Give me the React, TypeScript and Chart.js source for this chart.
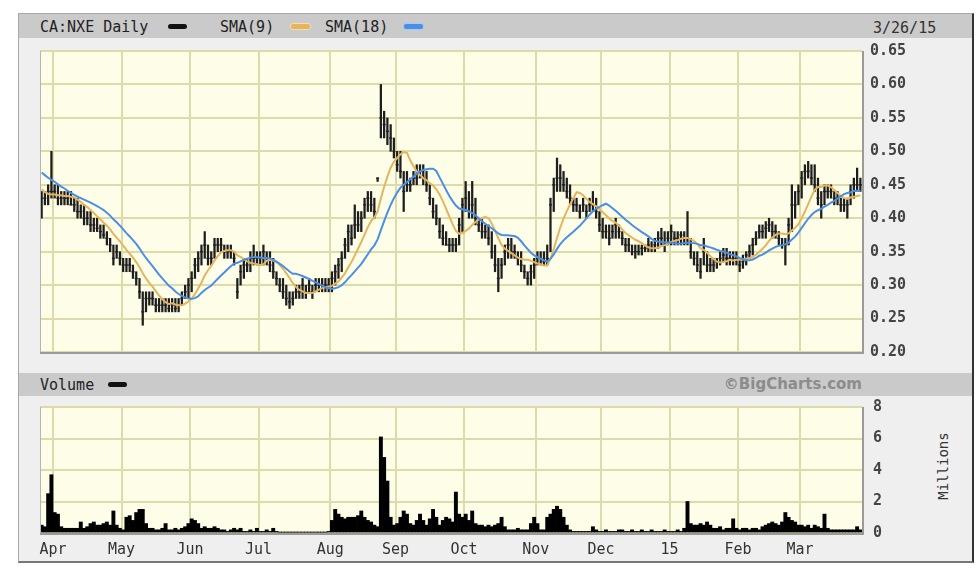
import React, { useEffect, useRef } from "react";
import { Chart, registerables } from "chart.js";

Chart.register(...registerables);

// ---- data ----
const symbol = "CA:NXE Daily";
const asOf = "3/26/15";
const monthLabels = ["Apr", "May", "Jun", "Jul", "Aug", "Sep", "Oct", "Nov", "Dec", "15", "Feb", "Mar"];
const monthStartIdx = [4, 25, 46, 67, 89, 109, 130, 152, 172, 193, 214, 233];
const priceTicks = [0.2, 0.25, 0.3, 0.35, 0.4, 0.45, 0.5, 0.55, 0.6, 0.65];
const volumeTicks = [0, 2, 4, 6, 8];

// closes before the first visible day (seed the moving averages)
const priorCloses = [0.5, 0.51, 0.5, 0.49, 0.5, 0.49, 0.48, 0.49, 0.48, 0.47, 0.46, 0.45, 0.44, 0.44, 0.43, 0.44, 0.43];

const highs = [
  0.44, 0.44, 0.45, 0.5, 0.45, 0.45, 0.44, 0.44, 0.44, 0.44,
  0.43, 0.43, 0.42, 0.42, 0.41, 0.41, 0.4, 0.4, 0.39, 0.39,
  0.38, 0.37, 0.36, 0.36, 0.35, 0.34, 0.34, 0.34, 0.33, 0.32,
  0.31, 0.29, 0.29, 0.29, 0.29, 0.28, 0.28, 0.28, 0.28, 0.28,
  0.28, 0.28, 0.28, 0.29, 0.3, 0.31, 0.32, 0.34, 0.35, 0.36,
  0.38, 0.36, 0.35, 0.37, 0.37, 0.37, 0.36, 0.36, 0.36, 0.35,
  0.31, 0.33, 0.34, 0.34, 0.35, 0.36, 0.35, 0.35, 0.36, 0.35,
  0.35, 0.34, 0.32, 0.31, 0.31, 0.3, 0.29, 0.29, 0.3, 0.3,
  0.31, 0.3, 0.31, 0.3, 0.31, 0.31, 0.31, 0.31, 0.31, 0.32,
  0.33, 0.34, 0.35, 0.37, 0.39, 0.39, 0.42, 0.41, 0.41, 0.43,
  0.44, 0.44, 0.43, 0.46, 0.6, 0.56, 0.55, 0.54, 0.52, 0.5,
  0.5, 0.47, 0.47, 0.46, 0.47, 0.48, 0.48, 0.48, 0.47, 0.45,
  0.43, 0.42, 0.4, 0.39, 0.38, 0.37, 0.37, 0.37, 0.4, 0.43,
  0.455, 0.44, 0.455, 0.43, 0.4, 0.4, 0.39, 0.39, 0.38, 0.36,
  0.34, 0.34, 0.36, 0.37, 0.37, 0.36, 0.35, 0.35, 0.33, 0.32,
  0.33, 0.34, 0.35, 0.35, 0.35, 0.36, 0.43, 0.46, 0.49, 0.48,
  0.47, 0.46, 0.45, 0.43, 0.43, 0.42, 0.43, 0.42, 0.43, 0.44,
  0.43, 0.41, 0.4, 0.39, 0.39, 0.39, 0.4, 0.39, 0.38, 0.37,
  0.37, 0.36, 0.36, 0.36, 0.36, 0.36, 0.37, 0.365, 0.37, 0.38,
  0.385, 0.38, 0.38, 0.39, 0.38, 0.38, 0.38, 0.38, 0.41, 0.37,
  0.35, 0.35, 0.34, 0.37, 0.35, 0.34, 0.34, 0.34, 0.35, 0.355,
  0.355, 0.35, 0.35, 0.35, 0.34, 0.345, 0.35, 0.36, 0.37, 0.38,
  0.39, 0.39, 0.395, 0.4, 0.395, 0.39, 0.38, 0.37, 0.37, 0.4,
  0.45, 0.44, 0.45, 0.47, 0.48, 0.485, 0.48, 0.48, 0.46, 0.44,
  0.45, 0.45, 0.45, 0.44, 0.44, 0.43, 0.43, 0.43, 0.45, 0.46,
  0.475, 0.46,
];

const lows = [
  0.4, 0.42, 0.42, 0.43, 0.43, 0.42, 0.42, 0.42, 0.42, 0.42,
  0.41, 0.4, 0.4, 0.39, 0.39, 0.38, 0.38, 0.38, 0.37, 0.37,
  0.36, 0.35, 0.33, 0.34, 0.33, 0.32, 0.32, 0.32, 0.31, 0.3,
  0.28, 0.24, 0.26, 0.27, 0.27, 0.26, 0.26, 0.26, 0.26, 0.26,
  0.26, 0.26, 0.26, 0.27, 0.28, 0.28, 0.29, 0.31, 0.32, 0.33,
  0.34, 0.33, 0.33, 0.34, 0.35, 0.35, 0.34, 0.34, 0.34, 0.33,
  0.28, 0.3, 0.31, 0.32, 0.32, 0.33, 0.33, 0.33, 0.33, 0.33,
  0.32, 0.31, 0.3, 0.29, 0.28, 0.27, 0.265, 0.27, 0.28, 0.28,
  0.28, 0.28, 0.29, 0.28, 0.29, 0.29, 0.29, 0.29, 0.29, 0.29,
  0.3, 0.31, 0.32, 0.34, 0.35, 0.36, 0.37, 0.38, 0.38, 0.4,
  0.41, 0.41, 0.4, 0.455, 0.52, 0.52, 0.51, 0.5, 0.49, 0.47,
  0.46, 0.41, 0.44, 0.44, 0.45, 0.45, 0.46, 0.45, 0.44, 0.42,
  0.4, 0.39, 0.37, 0.36, 0.36, 0.35, 0.35, 0.35, 0.36, 0.38,
  0.41, 0.4, 0.4, 0.39, 0.38, 0.37, 0.37, 0.36, 0.34, 0.32,
  0.29, 0.31, 0.33, 0.34, 0.34, 0.34, 0.33, 0.32, 0.31, 0.3,
  0.3, 0.31, 0.33, 0.33, 0.33, 0.33, 0.35, 0.41, 0.44, 0.44,
  0.44, 0.43, 0.42, 0.41, 0.41, 0.4, 0.41, 0.4, 0.41, 0.41,
  0.4, 0.38, 0.37, 0.37, 0.36, 0.37, 0.37, 0.37, 0.36, 0.35,
  0.35, 0.345, 0.34, 0.345, 0.345, 0.35, 0.35, 0.35, 0.35, 0.355,
  0.36, 0.35, 0.36, 0.36, 0.36, 0.36, 0.36, 0.36, 0.36, 0.34,
  0.33, 0.32, 0.31, 0.33, 0.32, 0.32, 0.32, 0.325, 0.33, 0.335,
  0.33, 0.33, 0.33, 0.33, 0.32, 0.325, 0.33, 0.34, 0.345, 0.36,
  0.37, 0.37, 0.37, 0.38, 0.37, 0.37, 0.36, 0.355, 0.33, 0.36,
  0.38, 0.4, 0.42, 0.43, 0.45, 0.46, 0.45, 0.44, 0.42, 0.4,
  0.42, 0.43, 0.43, 0.42, 0.42, 0.41, 0.41, 0.4, 0.42, 0.43,
  0.44, 0.44,
];

const closes = [
  0.43, 0.43, 0.44, 0.44, 0.44, 0.43, 0.43, 0.43, 0.43, 0.42,
  0.42, 0.41, 0.41, 0.4, 0.4, 0.39, 0.39, 0.385, 0.38, 0.375,
  0.37, 0.36, 0.34, 0.35, 0.34, 0.33, 0.33, 0.33, 0.32, 0.31,
  0.29, 0.26, 0.28, 0.28, 0.28, 0.27, 0.27, 0.27, 0.27, 0.265,
  0.27, 0.265, 0.27, 0.28, 0.29, 0.3, 0.31, 0.33, 0.34, 0.35,
  0.36, 0.34, 0.34, 0.36, 0.36, 0.36, 0.35, 0.35, 0.35, 0.34,
  0.29, 0.32, 0.33, 0.33, 0.34, 0.34, 0.34, 0.34, 0.35, 0.34,
  0.33, 0.32, 0.31, 0.3, 0.29, 0.28, 0.275, 0.28, 0.29, 0.29,
  0.3, 0.29, 0.3, 0.29, 0.3, 0.3, 0.3, 0.3, 0.3, 0.31,
  0.32, 0.33, 0.34, 0.36, 0.38, 0.37, 0.39, 0.39, 0.4, 0.42,
  0.43, 0.42, 0.41, 0.46, 0.55, 0.54, 0.53, 0.52, 0.5, 0.48,
  0.47, 0.44, 0.45, 0.45, 0.46, 0.46, 0.47, 0.46, 0.45, 0.43,
  0.41, 0.4, 0.38, 0.37, 0.36, 0.36, 0.36, 0.36, 0.39, 0.42,
  0.43, 0.41, 0.42, 0.4, 0.39, 0.38, 0.38, 0.37, 0.35, 0.33,
  0.31, 0.33, 0.35, 0.36, 0.35, 0.35, 0.34, 0.33, 0.32, 0.31,
  0.32, 0.33, 0.34, 0.34, 0.335, 0.34, 0.42, 0.45, 0.46, 0.46,
  0.45, 0.44, 0.43, 0.42, 0.42, 0.41, 0.42, 0.41, 0.42, 0.42,
  0.41, 0.39, 0.38, 0.38, 0.37, 0.38, 0.39, 0.38, 0.37, 0.36,
  0.36, 0.35, 0.35, 0.35, 0.355, 0.355, 0.36, 0.355, 0.36, 0.37,
  0.37, 0.36, 0.37, 0.38, 0.37, 0.37, 0.375, 0.37, 0.37, 0.35,
  0.34, 0.33, 0.32, 0.35, 0.33, 0.33, 0.33, 0.335, 0.34, 0.345,
  0.34, 0.34, 0.34, 0.34, 0.33, 0.335, 0.345, 0.35, 0.36, 0.37,
  0.38, 0.38, 0.385, 0.39, 0.38, 0.38, 0.37, 0.36, 0.36, 0.39,
  0.42, 0.42, 0.44, 0.46, 0.47, 0.47, 0.46, 0.45, 0.43, 0.42,
  0.44, 0.44, 0.44, 0.43, 0.43, 0.42, 0.42, 0.42, 0.44, 0.45,
  0.45, 0.45,
];

// volume, millions of shares
const volumes = [
  0.5, 0.4, 2.5, 3.7, 1.3, 1.2, 0.4, 0.3, 0.3, 0.3,
  0.3, 0.3, 0.7, 0.3, 0.4, 0.6, 0.7, 0.5, 0.5, 0.6,
  0.7, 0.5, 1.4, 0.5, 0.3, 0.2, 1.0, 1.1, 0.8, 1.3,
  1.5, 1.5, 0.6, 0.3, 0.3, 0.2, 0.2, 0.3, 0.6, 0.2,
  0.2, 0.3, 0.2, 0.3, 0.4, 0.6, 0.9, 0.8, 0.6, 0.3,
  0.4, 0.3, 0.3, 0.4, 0.3, 0.2, 0.2, 0.1, 0.2, 0.3,
  0.2, 0.3, 0.1, 0.1, 0.2, 0.1, 0.3, 0.1, 0.1, 0.2,
  0.1, 0.3, 0.1, 0.05, 0.05, 0.05, 0.05, 0.05, 0.05, 0.05,
  0.05, 0.05, 0.05, 0.05, 0.05, 0.05, 0.05, 0.05, 0.1, 0.8,
  1.5, 1.2, 1.0, 0.9, 1.0, 1.0, 1.0, 1.1, 1.4, 1.0,
  0.8, 0.7, 0.5, 0.4, 6.1, 4.8, 3.3, 1.0, 0.5, 0.6,
  1.0, 1.4, 1.2, 0.6, 0.5, 0.8, 1.2, 0.8, 0.5, 0.9,
  1.5, 1.0, 0.5, 0.8, 1.0, 0.9, 0.7, 2.6, 1.2, 1.0,
  1.2, 0.8, 1.4, 0.6, 0.5, 0.5, 0.4, 0.5, 0.4, 0.5,
  0.6, 1.0, 0.4, 0.2, 0.2, 0.2, 0.3, 0.2, 0.2, 0.2,
  0.6, 1.0, 0.6, 0.2, 0.2, 1.0, 1.2, 1.5, 1.7, 1.5,
  1.0, 0.5, 0.2, 0.1, 0.1, 0.1, 0.1, 0.1, 0.1, 0.4,
  0.2, 0.1, 0.1, 0.2, 0.1, 0.1, 0.1, 0.2, 0.2, 0.1,
  0.1, 0.2, 0.1, 0.1, 0.2, 0.1, 0.1, 0.2, 0.1, 0.1,
  0.1, 0.2, 0.1, 0.1, 0.1, 0.2, 0.1, 0.3, 2.0, 0.6,
  0.5, 0.5, 0.6, 0.5, 0.7, 0.5, 0.3, 0.3, 0.4, 0.2,
  0.3, 0.3, 0.9, 0.3, 0.2, 0.3, 0.3, 0.2, 0.3, 0.3,
  0.2, 0.4, 0.5, 0.6, 0.7, 0.6, 0.5, 0.7, 1.3, 1.0,
  0.8, 0.7, 0.5, 0.5, 0.4, 0.5, 0.3, 0.5, 0.4, 0.3,
  1.2, 0.3, 0.2, 0.2, 0.2, 0.2, 0.2, 0.2, 0.2, 0.2,
  0.4, 0.2,
];

// ---- styling ----
const PLOT_BG = "#fefee8";
const GRID = "#dcdcaa";
const MONO = "'DejaVu Sans Mono', monospace";
const SMA9_COLOR = "#e5b45c";
const SMA18_COLOR = "#4a8fe6";
const PAD = 26;

function sma(n: number) {
  const all = [...priorCloses, ...closes];
  const off = priorCloses.length;
  return closes.map((_, i) => {
    let s = 0;
    for (let k = 0; k < n; k++) s += all[off + i - k];
    return { x: i, y: s / n };
  });
}

const panelPlugin = {
  id: "panel",
  beforeDraw(chart: any) {
    const { ctx, chartArea: a } = chart;
    ctx.save();
    ctx.fillStyle = PLOT_BG;
    ctx.fillRect(a.left, a.top, a.right - a.left, a.bottom - a.top);
    ctx.restore();
  },
  afterDraw(chart: any) {
    const { ctx, chartArea: a } = chart;
    ctx.save();
    ctx.strokeStyle = "#9a9a9a";
    ctx.lineWidth = 2;
    ctx.beginPath();
    ctx.moveTo(a.right + 1, a.top);
    ctx.lineTo(a.right + 1, a.bottom + 1);
    ctx.lineTo(a.left, a.bottom + 1);
    ctx.stroke();
    ctx.strokeStyle = "#b4b4b4";
    ctx.lineWidth = 1;
    ctx.beginPath();
    ctx.moveTo(a.left + 0.5, a.bottom);
    ctx.lineTo(a.left + 0.5, a.top);
    ctx.stroke();
    ctx.restore();
  },
};

const lastIdx = closes.length - 1;

function xScale(showLabels: boolean) {
  return {
    type: "linear" as const,
    min: -0.5,
    max: lastIdx + 0.5,
    offset: false,
    afterBuildTicks: (s: any) => {
      s.ticks = monthStartIdx.map((i) => ({ value: i - 0.5 }));
    },
    afterFit: (s: any) => {
      s.height = showLabels ? 27 : 0;
    },
    grid: { color: GRID, lineWidth: 2, drawTicks: false, offset: false },
    border: { display: false },
    ticks: {
      display: showLabels,
      autoSkip: false,
      maxRotation: 0,
      padding: 8,
      color: "#333",
      font: { family: MONO, size: 15 },
      callback: (_v: any, i: number) => monthLabels[i],
    },
  };
}

export default function App() {
  const priceRef = useRef<HTMLCanvasElement>(null);
  const volRef = useRef<HTMLCanvasElement>(null);

  useEffect(() => {
    const price = new Chart(priceRef.current!, {
      type: "bar",
      data: {
        datasets: [
          {
            type: "line",
            label: "SMA(18)",
            data: sma(18),
            borderColor: SMA18_COLOR,
            borderWidth: 2,
            pointRadius: 0,
            order: 1,
          },
          {
            type: "line",
            label: "SMA(9)",
            data: sma(9),
            borderColor: SMA9_COLOR,
            borderWidth: 2,
            pointRadius: 0,
            order: 2,
          },
          {
            type: "line",
            label: "Close",
            data: closes.map((c, i) => ({ x: i, y: c })),
            showLine: false,
            pointStyle: "line",
            pointRadius: 1.5,
            borderColor: "#1e1e1e",
            borderWidth: 1.4,
            order: 3,
          },
          {
            type: "bar",
            label: "CA:NXE",
            data: highs.map((h, i) => ({ x: i, y: [lows[i], h] })),
            backgroundColor: "#1e1e1e",
            barThickness: 1.6,
            borderWidth: 0,
            order: 4,
          } as any,
        ],
      },
      options: {
        responsive: false,
        animation: false,
        layout: { padding: { left: 20, top: PAD, bottom: PAD, right: 0 } },
        plugins: { legend: { display: false }, tooltip: { enabled: false } },
        scales: {
          x: xScale(false) as any,
          y: {
            position: "right",
            min: 0.2,
            max: 0.65,
            afterBuildTicks: (s: any) => {
              s.ticks = priceTicks.map((v) => ({ value: v }));
            },
            afterFit: (s: any) => {
              s.width = 68;
            },
            grid: { color: GRID, lineWidth: 2, drawTicks: false },
            border: { display: false },
            ticks: {
              padding: 8,
              color: "#444",
              font: { family: MONO, size: 15, weight: "bold" },
              callback: (v: any) => Number(v).toFixed(2),
            },
          },
        },
      },
      plugins: [panelPlugin],
    });

    const vol = new Chart(volRef.current!, {
      type: "bar",
      data: {
        datasets: [
          {
            label: "Volume",
            data: volumes.map((v, i) => ({ x: i, y: v })),
            backgroundColor: "#000",
            borderWidth: 0,
            barPercentage: 1,
            categoryPercentage: 1,
          } as any,
        ],
      },
      options: {
        responsive: false,
        animation: false,
        layout: { padding: { left: 20, top: PAD, bottom: 0, right: 0 } },
        plugins: { legend: { display: false }, tooltip: { enabled: false } },
        scales: {
          x: xScale(true) as any,
          y: {
            position: "right",
            min: 0,
            max: 8,
            afterBuildTicks: (s: any) => {
              s.ticks = volumeTicks.map((v) => ({ value: v }));
            },
            afterFit: (s: any) => {
              s.width = 68;
            },
            grid: { color: GRID, lineWidth: 2, drawTicks: false },
            border: { display: false },
            ticks: {
              padding: 11,
              color: "#444",
              font: { family: MONO, size: 15, weight: "bold" },
            },
          },
        },
      },
      plugins: [panelPlugin],
    });

    return () => {
      price.destroy();
      vol.destroy();
    };
  }, []);

  const txt: React.CSSProperties = {
    position: "absolute",
    fontFamily: MONO,
    fontSize: 15,
    color: "#222",
    lineHeight: "18px",
    whiteSpace: "nowrap",
  };
  const swatch = (left: number, top: number, color: string): React.CSSProperties => ({
    position: "absolute",
    left,
    top,
    width: 19,
    height: 5,
    borderRadius: 3,
    background: color,
  });

  return (
    <div style={{ position: "fixed", left: 0, top: 0, width: 980, height: 580, background: "#fff", overflow: "hidden" }}>
      <div
        style={{
          position: "absolute",
          left: 18,
          top: 13,
          width: 956,
          height: 550,
          boxSizing: "border-box",
          background: "#efefef",
          borderLeft: "1px solid #a8a8a8",
          borderTop: "1px solid #a8a8a8",
          borderRight: "2px solid #333",
          borderBottom: "2px solid #777",
        }}
      />
      {/* top header bar */}
      <div style={{ position: "absolute", left: 19, top: 14, width: 953, height: 24, background: "#cacaca" }} />
      <div style={{ ...txt, left: 40, top: 18 }}>{symbol}</div>
      <div style={swatch(168, 24, "#111")} />
      <div style={{ ...txt, left: 220, top: 18 }}>SMA(9)</div>
      <div style={{ ...swatch(290, 23, SMA9_COLOR), border: "1px solid #f3dfae" }} />
      <div style={{ ...txt, left: 325, top: 18 }}>SMA(18)</div>
      <div style={{ ...swatch(403, 23, SMA18_COLOR), border: "1px solid #a9cbf5" }} />
      <div style={{ ...txt, left: 873, top: 19, color: "#333" }}>{asOf}</div>

      {/* volume header bar */}
      <div style={{ position: "absolute", left: 19, top: 373, width: 953, height: 23, background: "#cacaca" }} />
      <div style={{ ...txt, left: 40, top: 376 }}>Volume</div>
      <div style={swatch(108, 382, "#111")} />
      <div
        style={{
          ...txt,
          left: 700,
          width: 162,
          textAlign: "right",
          top: 375,
          fontFamily: "'DejaVu Sans', sans-serif",
          fontWeight: "bold",
          fontSize: 15,
          color: "#8c8c8c",
        }}
      >
        ©BigCharts.com
      </div>
      <div
        style={{
          ...txt,
          left: 943,
          top: 466,
          fontSize: 14,
          color: "#333",
          transform: "translate(-50%, -50%) rotate(-90deg)",
        }}
      >
        Millions
      </div>

      <canvas ref={priceRef} width={910} height={301 + 2 * PAD} style={{ position: "absolute", left: 20, top: 51 - PAD }} />
      <canvas ref={volRef} width={910} height={126 + PAD + 27} style={{ position: "absolute", left: 20, top: 407 - PAD }} />
    </div>
  );
}
